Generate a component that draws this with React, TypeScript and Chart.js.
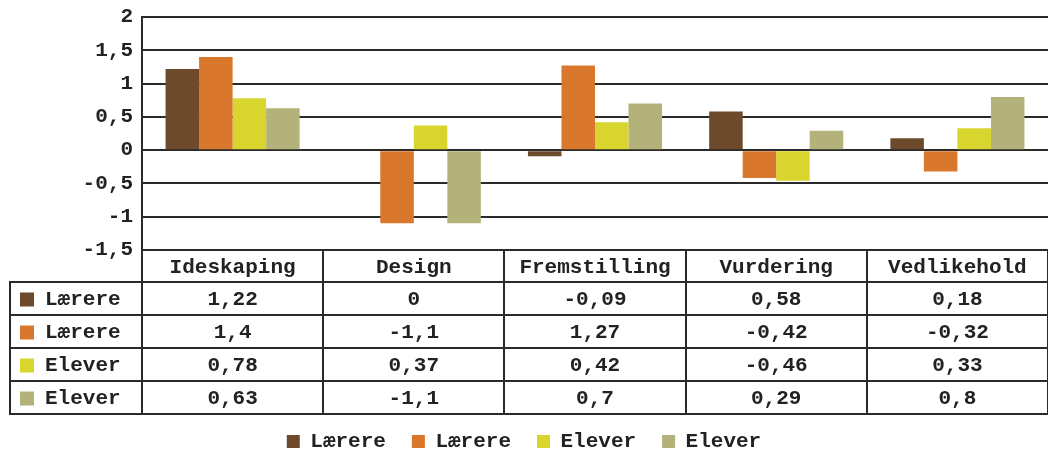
import React, { useEffect, useRef } from 'react';
import { Chart, registerables } from 'chart.js';

Chart.register(...registerables);

const categories = ['Ideskaping', 'Design', 'Fremstilling', 'Vurdering', 'Vedlikehold'];
const seriesNames = ['Lærere', 'Lærere', 'Elever', 'Elever'];
const laerereA = [1.22, 0, -0.09, 0.58, 0.18];
const laerereB = [1.4, -1.1, 1.27, -0.42, -0.32];
const eleverA = [0.78, 0.37, 0.42, -0.46, 0.33];
const eleverB = [0.63, -1.1, 0.7, 0.29, 0.8];
const seriesColors = ['#6d4a2c', '#d9772d', '#d8d52e', '#b3b27a'];
const yMin = -1.5;
const yMax = 2;
const yStep = 0.5;

const seriesValues = [laerereA, laerereB, eleverA, eleverB];
const FONT = '"Liberation Mono", "DejaVu Sans Mono", monospace';
const FSIZE = 21;
const TEXT = '#222';
const LINE = '#2a2a2a';

const fmt = (v: number) => String(v).replace('.', ',');

const tablePlugin = {
  id: 'dataTable',
  afterDraw(chart: any) {
    const { ctx, chartArea } = chart;
    const xs = chart.scales.x;
    const n = categories.length;
    const cw = (chartArea.right - chartArea.left) / n;
    const top = chartArea.bottom;
    const headH = 32;
    const rowH = 33;
    const rowsTop = top + headH;
    const bottom = rowsTop + rowH * seriesValues.length;
    const tableLeft = 10;
    ctx.save();
    ctx.strokeStyle = LINE;
    ctx.lineWidth = 2;
    ctx.beginPath();
    for (let k = 0; k <= n; k++) {
      const px = Math.round(chartArea.left + k * cw);
      ctx.moveTo(px, top);
      ctx.lineTo(px, bottom);
    }
    ctx.moveTo(tableLeft, rowsTop);
    ctx.lineTo(tableLeft, bottom);
    for (let r = 0; r <= seriesValues.length; r++) {
      const py = Math.round(rowsTop + r * rowH);
      ctx.moveTo(tableLeft - 1, py);
      ctx.lineTo(chartArea.right, py);
    }
    ctx.stroke();

    ctx.font = `bold ${FSIZE}px ${FONT}`;
    ctx.textBaseline = 'middle';
    seriesValues.forEach((vals, r) => {
      const cy = rowsTop + r * rowH + rowH / 2 + 1;
      ctx.fillStyle = seriesColors[r];
      ctx.fillRect(20, cy - 7, 14, 14);
      ctx.fillStyle = TEXT;
      ctx.textAlign = 'left';
      ctx.fillText(seriesNames[r], 45, cy);
      ctx.textAlign = 'center';
      vals.forEach((v, i) => {
        ctx.fillText(fmt(v), xs.getPixelForValue(i), cy);
      });
    });
    ctx.restore();
  },
};

export default function App() {
  const ref = useRef<HTMLCanvasElement | null>(null);
  useEffect(() => {
    if (!ref.current) return;
    const chart = new Chart(ref.current, {
      type: 'bar',
      data: {
        labels: categories,
        datasets: seriesValues.map((vals, i) => ({
          label: seriesNames[i],
          data: vals,
          backgroundColor: seriesColors[i],
          borderWidth: 0,
          categoryPercentage: 0.74,
          barPercentage: 1,
        })),
      },
      options: {
        animation: false,
        responsive: true,
        maintainAspectRatio: false,
        layout: { padding: { top: 17, left: 0, right: 0, bottom: 0 } },
        plugins: {
          tooltip: { enabled: false },
          legend: {
            position: 'bottom',
            labels: {
              boxWidth: 13,
              boxHeight: 13,
              padding: 26,
              color: TEXT,
              font: { family: FONT, size: FSIZE, weight: 'bold' },
            },
          },
        },
        scales: {
          x: {
            grid: { display: false },
            border: { display: false },
            ticks: {
              color: TEXT,
              padding: -3,
              font: { family: FONT, size: FSIZE, weight: 'bold' },
            },
            afterFit: (s: any) => {
              s.height = 155;
            },
          },
          y: {
            min: yMin,
            max: yMax,
            grid: { color: LINE, lineWidth: 2, drawTicks: false },
            border: { display: true, color: LINE, width: 2 },
            ticks: {
              stepSize: yStep,
              padding: 9,
              color: TEXT,
              font: { family: FONT, size: FSIZE, weight: 'bold' },
              callback: (v: any) => fmt(Number(v)),
            },
            afterFit: (s: any) => {
              s.width = 142;
              s.paddingTop = 0;
              s.paddingBottom = 0;
            },
          },
        },
      },
      plugins: [tablePlugin],
    });
    return () => chart.destroy();
  }, []);
  return (
    <div style={{ position: 'fixed', left: 0, top: 0, width: 1048, height: 462, background: '#fff' }}>
      <canvas ref={ref} />
    </div>
  );
}
